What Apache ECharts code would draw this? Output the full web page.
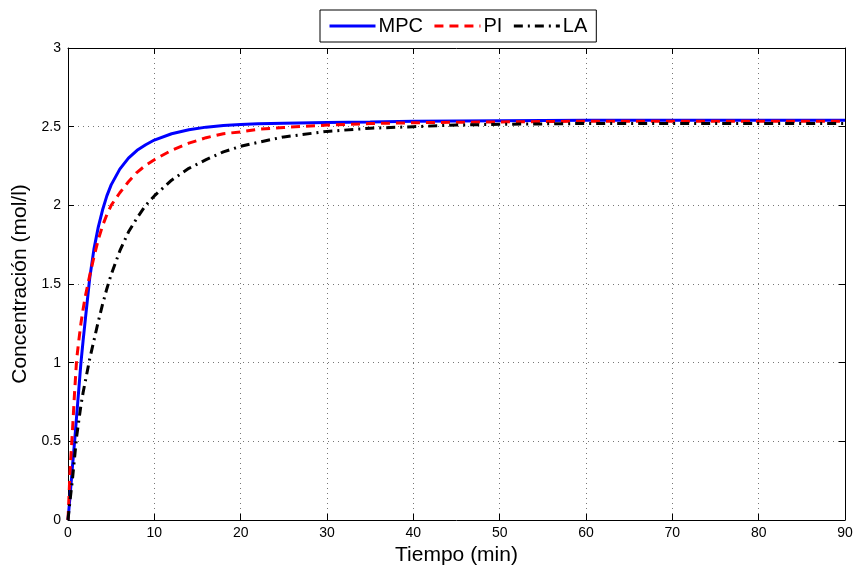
<!DOCTYPE html>
<html><head><meta charset="utf-8">
<script src="https://cdn.jsdelivr.net/npm/echarts@6/dist/echarts.min.js"></script>
<style>html,body{margin:0;padding:0;background:#fff}#c{width:854px;height:568px}</style>
</head><body><div id="c"></div>
<script>
const seriesNames = ['MPC', 'PI', 'LA'];
const time = [0, 0.25, 0.5, 0.75, 1, 1.25, 1.5, 1.75, 2, 2.5, 3, 3.5, 4, 4.5, 5, 6, 7, 8, 9, 10, 12, 14, 16, 18, 20, 22, 25, 30, 35, 40, 45, 50, 60, 70, 80, 90];
const mpc = [0, 0.16, 0.33, 0.49, 0.66, 0.83, 1.0, 1.14, 1.27, 1.53, 1.72, 1.86, 1.97, 2.06, 2.13, 2.23, 2.3, 2.35, 2.385, 2.415, 2.455, 2.48, 2.497, 2.507, 2.514, 2.518, 2.522, 2.527, 2.53, 2.534, 2.536, 2.538, 2.54, 2.54, 2.54, 2.54];
const pi = [0, 0.33, 0.55, 0.8, 1.02, 1.14, 1.25, 1.34, 1.42, 1.55, 1.67, 1.78, 1.87, 1.94, 2.0, 2.08, 2.15, 2.21, 2.255, 2.29, 2.35, 2.395, 2.43, 2.455, 2.467, 2.483, 2.495, 2.51, 2.52, 2.525, 2.528, 2.53, 2.535, 2.535, 2.535, 2.535];
const la = [0, 0.13, 0.25, 0.39, 0.53, 0.63, 0.73, 0.81, 0.88, 1.02, 1.14, 1.26, 1.37, 1.47, 1.56, 1.71, 1.83, 1.92, 2.0, 2.06, 2.16, 2.235, 2.29, 2.34, 2.375, 2.4, 2.435, 2.47, 2.49, 2.5, 2.51, 2.515, 2.52, 2.52, 2.52, 2.52];
const xLabel = 'Tiempo (min)';
const yLabel = 'Concentración (mol/l)';

const pairs = arr => time.map((t, i) => [t, arr[i]]);
const font = 'Liberation Sans, Arial, sans-serif';
const chart = echarts.init(document.getElementById('c'), null, {renderer: 'canvas'});
const frameAxis = {
  axisLine: {show: true, onZero: false, lineStyle: {color: '#000', width: 1}},
  axisTick: {show: true, inside: true, length: 6, lineStyle: {color: '#000'}},
  axisLabel: {show: false}, splitLine: {show: false}
};
chart.setOption({
  animation: false,
  backgroundColor: '#fff',
  grid: {left: 68, right: 9, top: 48, bottom: 48, outerBoundsMode: 'none', containLabel: false},
  legend: {
    left: 320, top: 10, width: 300,
    padding: [6, 9, 6, 8],
    borderColor: '#000', borderWidth: 1, backgroundColor: '#fff', borderRadius: 0,
    itemWidth: 46, itemHeight: 10, itemGap: 10,
    itemStyle: {opacity: 0},
    lineStyle: {width: 3},
    textStyle: {fontFamily: font, fontSize: 20, color: '#000', padding: [0, 0, 0, -2]},
    data: seriesNames
  },
  xAxis: [{
    type: 'value', min: 0, max: 90, interval: 10, position: 'bottom',
    name: xLabel, nameLocation: 'middle', nameGap: 23,
    nameTextStyle: {fontFamily: font, fontSize: 21, color: '#000'},
    axisLine: {show: true, onZero: false, lineStyle: {color: '#000', width: 1}},
    axisTick: {show: true, inside: true, length: 6, lineStyle: {color: '#000'}},
    axisLabel: {fontFamily: font, fontSize: 14, color: '#000', margin: 6},
    splitLine: {show: true, lineStyle: {color: '#777', type: [1, 4], width: 1}}
  }, Object.assign({type: 'value', min: 0, max: 90, interval: 10, position: 'top'}, frameAxis)],
  yAxis: [{
    type: 'value', min: 0, max: 3, interval: 0.5, position: 'left',
    name: yLabel, nameLocation: 'middle', nameGap: 32,
    nameTextStyle: {fontFamily: font, fontSize: 21, color: '#000'},
    axisLine: {show: true, onZero: false, lineStyle: {color: '#000', width: 1}},
    axisTick: {show: true, inside: true, length: 6, lineStyle: {color: '#000'}},
    axisLabel: {fontFamily: font, fontSize: 14, color: '#000', margin: 7},
    splitLine: {show: true, lineStyle: {color: '#777', type: [1, 4], width: 1}}
  }, Object.assign({type: 'value', min: 0, max: 3, interval: 0.5, position: 'right'}, frameAxis)],
  series: [
    {name: 'MPC', type: 'line', data: pairs(mpc), symbol: 'none', smooth: false,
     lineStyle: {color: '#0000ff', width: 3}, itemStyle: {color: '#0000ff'}, z: 3},
    {name: 'PI', type: 'line', data: pairs(pi), symbol: 'none', smooth: false,
     lineStyle: {color: '#ff0000', width: 3, type: [9, 6]}, itemStyle: {color: '#ff0000'}, z: 4},
    {name: 'LA', type: 'line', data: pairs(la), symbol: 'none', smooth: false,
     lineStyle: {color: '#000000', width: 3, type: [9, 5, 2, 5]}, itemStyle: {color: '#000'}, z: 5}
  ]
});
</script></body></html>
